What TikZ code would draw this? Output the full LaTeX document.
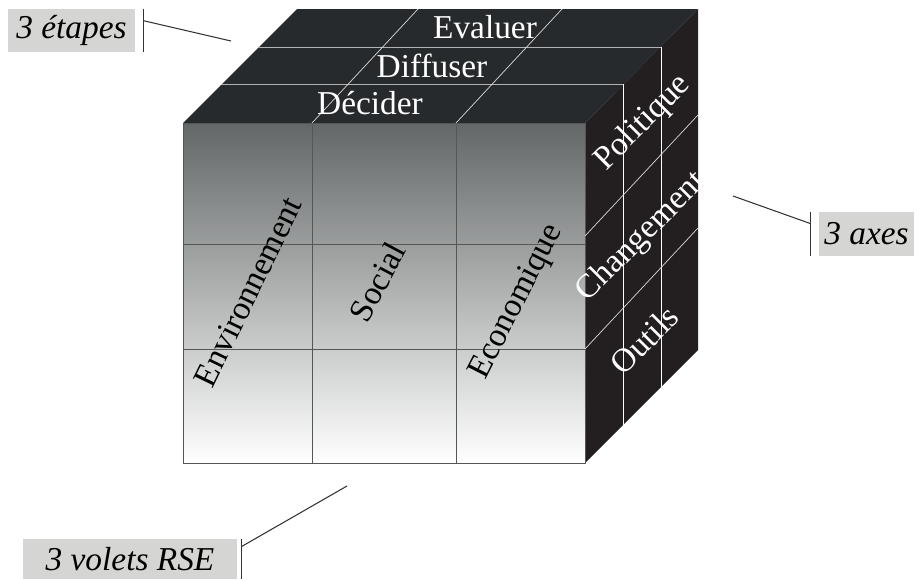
\documentclass[tikz,border=0pt]{standalone}
\usepackage{fontspec}
\setmainfont{Liberation Serif}
\definecolor{topface}{HTML}{272A2C}
\definecolor{sideface}{HTML}{231F20}
\definecolor{facetop}{HTML}{636767}
\definecolor{facemid}{HTML}{C6C8C8}
\definecolor{tagfill}{HTML}{D5D6D4}
\definecolor{gridline}{HTML}{555757}

\begin{document}
\begin{tikzpicture}[x=0.02cm, y=-0.02cm, every node/.style={font=\fontsize{19}{21}\selectfont},
	tag/.style={fill=tagfill, inner sep=0pt, font=\fontsize{19}{21}\selectfont\itshape},
	onface/.style={text=white}, leader/.style={black!80, line width=0.6pt}]
	\useasboundingbox (0,0) rectangle (920,579);
	% corners of the cube
	\coordinate (ftl) at (183,123); \coordinate (ftr) at (585,123);
	\coordinate (fbr) at (585,463); \coordinate (btl) at (297,9);
	\coordinate (btr) at (698,9);   \coordinate (bbr) at (698,350);
	\fill[topface] (ftl) -- (btl) -- (btr) -- (ftr) -- cycle;
	\fill[sideface] (ftr) -- (btr) -- (bbr) -- (fbr) -- cycle;
	\shade[top color=facetop, middle color=facemid, bottom color=white] (ftl) rectangle (fbr);
	\draw[gridline] (ftl) rectangle (fbr);
	\draw[gridline] (312,123) -- (312,463) (456,123) -- (456,463) (183,244) -- (585,244) (183,349) -- (585,349);
	% layers on top and right
	\draw[white!70!black] (221,84) -- (623,84) (259,47) -- (661,47);
	\draw[white] (623,84) -- (623,425) (661,47) -- (661,388);
	\draw[white!85!black] (312,123) -- (418,9) (456,123) -- (562,9);
	\draw[white!85!black] (585,236) -- (698,115) (585,349) -- (698,228);
	\node[onface] (evaluer) at (485,27) {Evaluer};
	\node[onface] (diffuser) at (432,66) {Diffuser};
	\node[onface] (decider) at (370,103) {Décider};
	\node[onface, rotate=45] (politique) at (643,123) {Politique};
	\node[onface, rotate=45] (changement) at (642,237) {Changement};
	\node[onface, rotate=45] (outils) at (644,340) {Outils};
	\node[rotate=64] (environnement) at (248,292) {Environnement};
	\node[rotate=62] (social) at (377,282) {Social};
	\node[rotate=63] (economique) at (517,302) {Economique};
	% tags
	\node[tag, minimum width=2.54cm, minimum height=0.86cm] (etapes) at (71.5,30.5) {3 étapes};
	\node[tag, minimum width=1.9cm, minimum height=0.88cm] (axes) at (866.5,234) {3 axes};
	\node[tag, minimum width=4.28cm, minimum height=0.8cm] (volets) at (130,559) {3 volets RSE};
	\draw[leader] ([xshift=0.16cm]etapes.north east) -- ([xshift=0.16cm]etapes.south east);
	\draw[leader] ([xshift=-0.16cm]axes.north west) -- ([xshift=-0.16cm]axes.south west);
	\draw[leader] ([xshift=0.08cm]volets.north east) -- ([xshift=0.08cm]volets.south east);
	\coordinate (etapes bar) at ([xshift=0.16cm,yshift=-0.24cm]etapes.north east);
	\coordinate (axes bar) at ([xshift=-0.16cm,yshift=-0.24cm]axes.north west);
	\coordinate (volets bar) at ([xshift=0.08cm,yshift=-0.16cm]volets.north east);
	\coordinate (etapes end) at (231,41);
	\coordinate (axes end) at (733,196);
	\coordinate (volets end) at (347,486);
	\draw[leader] (etapes bar) -- (etapes end);
	\draw[leader] (axes bar) -- (axes end);
	\draw[leader] (volets bar) -- (volets end);
\end{tikzpicture}
\end{document}
